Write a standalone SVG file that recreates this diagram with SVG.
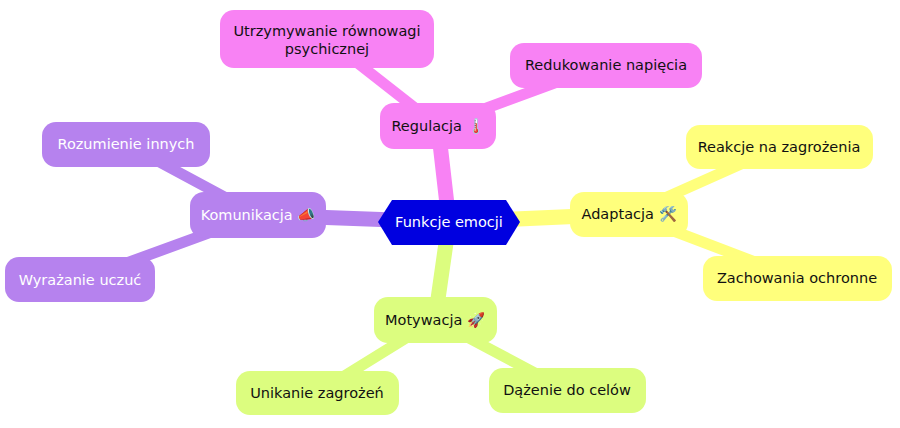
<svg xmlns="http://www.w3.org/2000/svg" width="900" height="428" viewBox="0 0 900 428">
<style>
text{font-family:"DejaVu Sans","Noto Sans",sans-serif;font-size:14.5px;text-anchor:middle;dominant-baseline:central}
.p{fill:#f882f4}.y{fill:#ffff7c}.g{fill:#dcfd7f}.v{fill:#b682ee}
.lp{stroke:#f882f4}.ly{stroke:#ffff7c}.lg{stroke:#dcfd7f}.lv{stroke:#b682ee}
.w{fill:#fff}.k{fill:#111}
#edges path{fill:none;stroke-linecap:round}
</style>
<rect width="900" height="428" fill="#fff"/>
<g id="edges">
<path class="lp" d="M449 222L438 126" stroke-width="15"/>
<path class="ly" d="M449 222L629 214" stroke-width="15"/>
<path class="lg" d="M449 222L435 320" stroke-width="15"/>
<path class="lv" d="M449 222L258 215" stroke-width="15"/>
<path class="lp" d="M438 126L327 39" stroke-width="11"/>
<path class="lp" d="M438 126L606 64" stroke-width="11"/>
<path class="ly" d="M629 214L779 147" stroke-width="11"/>
<path class="ly" d="M629 214L797 278" stroke-width="11"/>
<path class="lg" d="M435 320L317 393" stroke-width="11"/>
<path class="lg" d="M435 320L567 390" stroke-width="11"/>
<path class="lv" d="M258 215L126 144" stroke-width="11"/>
<path class="lv" d="M258 215L80 280" stroke-width="11"/>
</g>
<g id="root"><polygon points="378,222 392,200 506,200 520,222 506,245 392,245" fill="#0000e0"/><text x="449" y="222" class="w">Funkcje emocji</text></g>
<g id="regulacja"><rect x="380" y="103" width="116" height="46" rx="14" class="p"/><text x="438" y="126" class="k">Regulacja 🌡️</text></g>
<g id="utrzymywanie"><rect x="220" y="10" width="214" height="58" rx="14" class="p"/><text x="327" y="31" class="k">Utrzymywanie równowagi</text><text x="327" y="49" class="k">psychicznej</text></g>
<g id="redukowanie"><rect x="510" y="43" width="192" height="45" rx="14" class="p"/><text x="606" y="65" class="k">Redukowanie napięcia</text></g>
<g id="adaptacja"><rect x="570" y="192" width="118" height="45" rx="14" class="y"/><text x="629" y="214" class="k">Adaptacja 🛠️</text></g>
<g id="reakcje"><rect x="686" y="125" width="187" height="44" rx="14" class="y"/><text x="779" y="147" class="k">Reakcje na zagrożenia</text></g>
<g id="zachowania"><rect x="703" y="256" width="189" height="45" rx="14" class="y"/><text x="797" y="278" class="k">Zachowania ochronne</text></g>
<g id="motywacja"><rect x="374" y="297" width="123" height="46" rx="14" class="g"/><text x="435" y="320" class="k">Motywacja 🚀</text></g>
<g id="unikanie"><rect x="236" y="371" width="163" height="44" rx="14" class="g"/><text x="317" y="393" class="k">Unikanie zagrożeń</text></g>
<g id="dazenie"><rect x="489" y="368" width="157" height="45" rx="14" class="g"/><text x="567" y="390" class="k">Dążenie do celów</text></g>
<g id="komunikacja"><rect x="190" y="192" width="136" height="46" rx="14" class="v"/><text x="258" y="215" class="w">Komunikacja 📣</text></g>
<g id="rozumienie"><rect x="42" y="122" width="168" height="45" rx="14" class="v"/><text x="126" y="144" class="w">Rozumienie innych</text></g>
<g id="wyrazanie"><rect x="5" y="257" width="150" height="45" rx="14" class="v"/><text x="80" y="280" class="w">Wyrażanie uczuć</text></g>
</svg>
